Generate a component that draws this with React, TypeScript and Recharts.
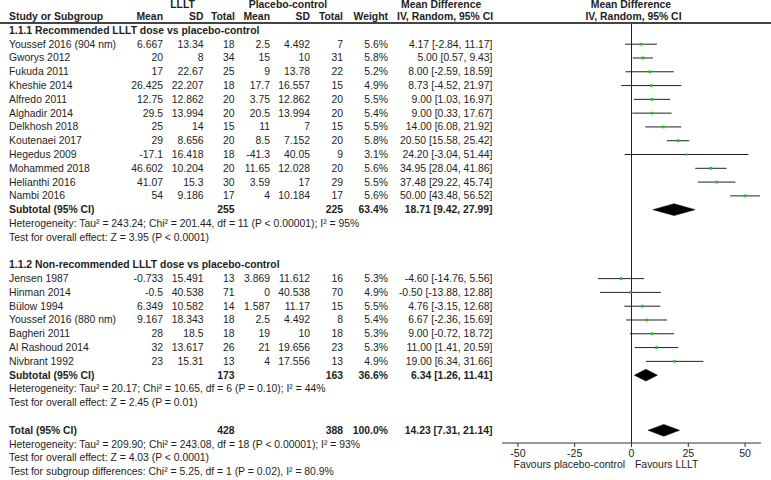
import React from 'react';
import { ComposedChart, XAxis, YAxis, Scatter, ErrorBar, Area, ReferenceLine } from 'recharts';

const W = 771;
const H = 480;
const FONT = '"Liberation Sans", Arial, Helvetica, sans-serif';
const INK = '#1e1e1e';

// ---- data ----
const studies = [
  'Youssef 2016 (904 nm)', 'Gworys 2012', 'Fukuda 2011', 'Kheshie 2014', 'Alfredo 2011', 'Alghadir 2014',
  'Delkhosh 2018', 'Koutenaei 2017', 'Hegedus 2009', 'Mohammed 2018', 'Helianthi 2016', 'Nambi 2016',
  'Jensen 1987', 'Hinman 2014', 'Bülow 1994', 'Youssef 2016 (880 nm)', 'Bagheri 2011', 'Al Rashoud 2014', 'Nivbrant 1992',
];
const llltMean = [6.667, 20, 17, 26.425, 12.75, 29.5, 25, 29, -17.1, 46.602, 41.07, 54, -0.733, -0.5, 6.349, 9.167, 28, 32, 23];
const llltSd = [13.34, 8, 22.67, 22.207, 12.862, 13.994, 14, 8.656, 16.418, 10.204, 15.3, 9.186, 15.491, 40.538, 10.582, 18.343, 18.5, 13.617, 15.31];
const llltN = [18, 34, 25, 18, 20, 20, 15, 20, 18, 20, 30, 17, 13, 71, 14, 18, 18, 26, 13];
const ctrlMean = [2.5, 15, 9, 17.7, 3.75, 20.5, 11, 8.5, -41.3, 11.65, 3.59, 4, 3.869, 0, 1.587, 2.5, 19, 21, 4];
const ctrlSd = [4.492, 10, 13.78, 16.557, 12.862, 13.994, 7, 7.152, 40.05, 12.028, 17, 10.184, 11.612, 40.538, 11.17, 4.492, 10, 19.656, 17.556];
const ctrlN = [7, 31, 22, 15, 20, 20, 15, 20, 9, 20, 29, 17, 16, 70, 15, 8, 18, 23, 13];
const weights = [5.6, 5.8, 5.2, 4.9, 5.5, 5.4, 5.5, 5.8, 3.1, 5.6, 5.5, 5.6, 5.3, 4.9, 5.5, 5.4, 5.3, 5.3, 4.9];
const md = [4.17, 5.0, 8.0, 8.73, 9.0, 9.0, 14.0, 20.5, 24.2, 34.95, 37.48, 50.0, -4.6, -0.5, 4.76, 6.67, 9.0, 11.0, 19.0];
const ciLow = [-2.84, 0.57, -2.59, -4.52, 1.03, 0.33, 6.08, 15.58, -3.04, 28.04, 29.22, 43.48, -14.76, -13.88, -3.15, -2.36, -0.72, 1.41, 6.34];
const ciHigh = [11.17, 9.43, 18.59, 21.97, 16.97, 17.67, 21.92, 25.42, 51.44, 41.86, 45.74, 56.52, 5.56, 12.88, 12.68, 15.69, 18.72, 20.59, 31.66];

const groupTitles = ['1.1.1 Recommended LLLT dose vs placebo-control', '1.1.2 Non-recommended LLLT dose vs placebo-control'];
const groupSizes = [12, 7];
const subLlltN = [255, 173];
const subCtrlN = [225, 163];
const subWeight = [63.4, 36.6];
const subMd = [18.71, 6.34];
const subLow = [9.42, 1.26];
const subHigh = [27.99, 11.41];
const subHet = [
  'Heterogeneity: Tau² = 243.24; Chi² = 201.44, df = 11 (P < 0.00001); I² = 95%',
  'Heterogeneity: Tau² = 20.17; Chi² = 10.65, df = 6 (P = 0.10); I² = 44%',
];
const subTest = ['Test for overall effect: Z = 3.95 (P < 0.0001)', 'Test for overall effect: Z = 2.45 (P = 0.01)'];

const totalN = [428, 388];
const totalMd = 14.23;
const totalLow = 7.31;
const totalHigh = 21.14;
const totalNotes = [
  'Heterogeneity: Tau² = 209.90; Chi² = 243.08, df = 18 (P < 0.00001); I² = 93%',
  'Test for overall effect: Z = 4.03 (P < 0.0001)',
  'Test for subgroup differences: Chi² = 5.25, df = 1 (P = 0.02), I² = 80.9%',
];
const xTicks = [-50, -25, 0, 25, 50];

// ---- layout ----
const ROW0 = 30.4;
const ROW_H = 13.79;
const PLOT_TOP = 24;
const PLOT_BOTTOM = 443;
const rowY = (r: number) => ROW0 + ROW_H * r;
const rowDomain: [number, number] = [(PLOT_TOP - ROW0) / ROW_H, (PLOT_BOTTOM - ROW0) / ROW_H];

// column right edges
const COL = { m1: 163, sd1: 203.5, n1: 234.5, m2: 270, sd2: 310, n2: 343, w: 388, md: 492.5 };

type Row =
  | { kind: 'group'; r: number; g: number }
  | { kind: 'study'; r: number; i: number }
  | { kind: 'sub'; r: number; g: number }
  | { kind: 'note'; r: number; text: string }
  | { kind: 'total'; r: number };

const rows: Row[] = [];
const studyRow: number[] = [];
const subRow: number[] = [];
let rr = 0;
let si = 0;
groupSizes.forEach((n, g) => {
  rows.push({ kind: 'group', r: rr++, g });
  for (let k = 0; k < n; k++) {
    studyRow[si] = rr;
    rows.push({ kind: 'study', r: rr++, i: si++ });
  }
  subRow[g] = rr;
  rows.push({ kind: 'sub', r: rr++, g });
  rows.push({ kind: 'note', r: rr++, text: subHet[g] });
  rows.push({ kind: 'note', r: rr++, text: subTest[g] });
  rr++;
});
const totalRow = rr;
rows.push({ kind: 'total', r: rr++ });
totalNotes.forEach((t) => rows.push({ kind: 'note', r: rr++, text: t }));

const points = studies.map((_, i) => ({
  x: md[i],
  y: studyRow[i],
  err: [md[i] - ciLow[i], ciHigh[i] - md[i]],
  w: weights[i],
}));

const HALF = 0.43;
const diamond = (m: number, lo: number, hi: number, r: number) => [
  { x: lo, y: [r, r] },
  { x: m, y: [r - HALF, r + HALF] },
  { x: hi, y: [r, r] },
];
const diamonds = [
  diamond(subMd[0], subLow[0], subHigh[0], subRow[0]),
  diamond(subMd[1], subLow[1], subHigh[1], subRow[1]),
  diamond(totalMd, totalLow, totalHigh, totalRow),
];

const fmt = (v: number) => String(v);
const fmtMd = (m: number, lo: number, hi: number) => `${m.toFixed(2)} [${lo.toFixed(2)}, ${hi.toFixed(2)}]`;

function T({ x, y, align = 'left', bold, children }: { x: number; y: number; align?: string; bold?: boolean; children: React.ReactNode }) {
  const style: React.CSSProperties = {
    position: 'absolute', top: y - 7, height: 14, lineHeight: '14px', whiteSpace: 'nowrap',
    fontWeight: bold ? 700 : 400,
  };
  if (align === 'right') style.right = W - x;
  else if (align === 'center') { style.left = x - 150; style.width = 300; style.textAlign = 'center'; }
  else style.left = x;
  return <div style={style}>{children}</div>;
}

function Marker(props: any) {
  const { cx, cy, payload } = props;
  if (cx == null || cy == null) return null;
  const s = 1.2 + payload.w * 0.28;
  return <rect x={cx - s / 2} y={cy - s / 2} width={s} height={s} fill="#1fc41f" />;
}

function TextRows() {
  const out: React.ReactNode[] = [];
  rows.forEach((row, k) => {
    const y = rowY(row.r) + 0.5;
    if (row.kind === 'group') {
      out.push(<T key={k} x={9} y={y} bold>{groupTitles[row.g]}</T>);
    } else if (row.kind === 'study') {
      const i = row.i;
      out.push(
        <React.Fragment key={k}>
          <T x={9} y={y}>{studies[i]}</T>
          <T x={COL.m1} y={y} align="right">{fmt(llltMean[i])}</T>
          <T x={COL.sd1} y={y} align="right">{fmt(llltSd[i])}</T>
          <T x={COL.n1} y={y} align="right">{llltN[i]}</T>
          <T x={COL.m2} y={y} align="right">{fmt(ctrlMean[i])}</T>
          <T x={COL.sd2} y={y} align="right">{fmt(ctrlSd[i])}</T>
          <T x={COL.n2} y={y} align="right">{ctrlN[i]}</T>
          <T x={COL.w} y={y} align="right">{weights[i].toFixed(1)}%</T>
          <T x={COL.md} y={y} align="right">{fmtMd(md[i], ciLow[i], ciHigh[i])}</T>
        </React.Fragment>,
      );
    } else if (row.kind === 'sub') {
      const g = row.g;
      out.push(
        <React.Fragment key={k}>
          <T x={9} y={y} bold>Subtotal (95% CI)</T>
          <T x={COL.n1} y={y} align="right" bold>{subLlltN[g]}</T>
          <T x={COL.n2} y={y} align="right" bold>{subCtrlN[g]}</T>
          <T x={COL.w} y={y} align="right" bold>{subWeight[g].toFixed(1)}%</T>
          <T x={COL.md} y={y} align="right" bold>{fmtMd(subMd[g], subLow[g], subHigh[g])}</T>
        </React.Fragment>,
      );
    } else if (row.kind === 'total') {
      out.push(
        <React.Fragment key={k}>
          <T x={9} y={y} bold>Total (95% CI)</T>
          <T x={COL.n1} y={y} align="right" bold>{totalN[0]}</T>
          <T x={COL.n2} y={y} align="right" bold>{totalN[1]}</T>
          <T x={COL.w} y={y} align="right" bold>100.0%</T>
          <T x={COL.md} y={y} align="right" bold>{fmtMd(totalMd, totalLow, totalHigh)}</T>
        </React.Fragment>,
      );
    } else {
      out.push(<T key={k} x={9} y={y}>{row.text}</T>);
    }
  });
  return <>{out}</>;
}

export default function App() {
  return (
    <div style={{
      position: 'absolute', left: 0, top: 0, width: W, height: H, background: '#fff',
      fontFamily: FONT, fontSize: 10.4, color: INK, overflow: 'hidden',
    }}>
      <ComposedChart
        width={W} height={H}
        margin={{ top: PLOT_TOP, right: 10, bottom: H - PLOT_BOTTOM - 30, left: 502 }}
        style={{ position: 'absolute', left: 0, top: 0, fontFamily: FONT }}
      >
        <XAxis
          type="number" dataKey="x" domain={[-57, 57]} ticks={xTicks} allowDataOverflow
          height={30} tickSize={4} interval={0}
          axisLine={{ stroke: '#333' }} tickLine={{ stroke: '#333' }}
          tick={{ fontSize: 10.6, fill: INK, fontFamily: FONT }}
        />
        <YAxis type="number" dataKey="y" domain={rowDomain} reversed hide allowDataOverflow />
        <ReferenceLine x={0} stroke="#222" strokeWidth={1} ifOverflow="extendDomain" />
        {diamonds.map((d, k) => (
          <Area
            key={k} data={d} dataKey="y" type="linear" isAnimationActive={false}
            fill="#000" fillOpacity={1} stroke="#000" strokeWidth={0.5} dot={false} activeDot={false}
          />
        ))}
        <Scatter data={points} shape={Marker} isAnimationActive={false}>
          <ErrorBar dataKey="err" direction="x" width={0} stroke="#222" strokeWidth={1} />
        </Scatter>
      </ComposedChart>

      {/* table header */}
      <T x={182.5} y={4.5} align="center" bold>LLLT</T>
      <T x={288} y={4.5} align="center" bold>Placebo-control</T>
      <T x={401} y={4.5} bold>Mean Difference</T>
      <T x={631} y={4.5} align="center" bold>Mean Difference</T>
      <T x={9} y={17} bold>Study or Subgroup</T>
      <T x={COL.m1} y={17} align="right" bold>Mean</T>
      <T x={COL.sd1} y={17} align="right" bold>SD</T>
      <T x={COL.n1 + 0.5} y={17} align="right" bold>Total</T>
      <T x={COL.m2} y={17} align="right" bold>Mean</T>
      <T x={COL.sd2} y={17} align="right" bold>SD</T>
      <T x={COL.n2} y={17} align="right" bold>Total</T>
      <T x={COL.w} y={17} align="right" bold>Weight</T>
      <T x={397} y={17} bold>IV, Random, 95% CI</T>
      <T x={633.5} y={17} align="center" bold>IV, Random, 95% CI</T>
      <div style={{ position: 'absolute', left: 0, top: 22, width: W, height: 1.5, background: '#444' }} />

      <TextRows />

      <T x={625} y={465} align="right">Favours placebo-control</T>
      <T x={635} y={465}>Favours LLLT</T>
    </div>
  );
}
